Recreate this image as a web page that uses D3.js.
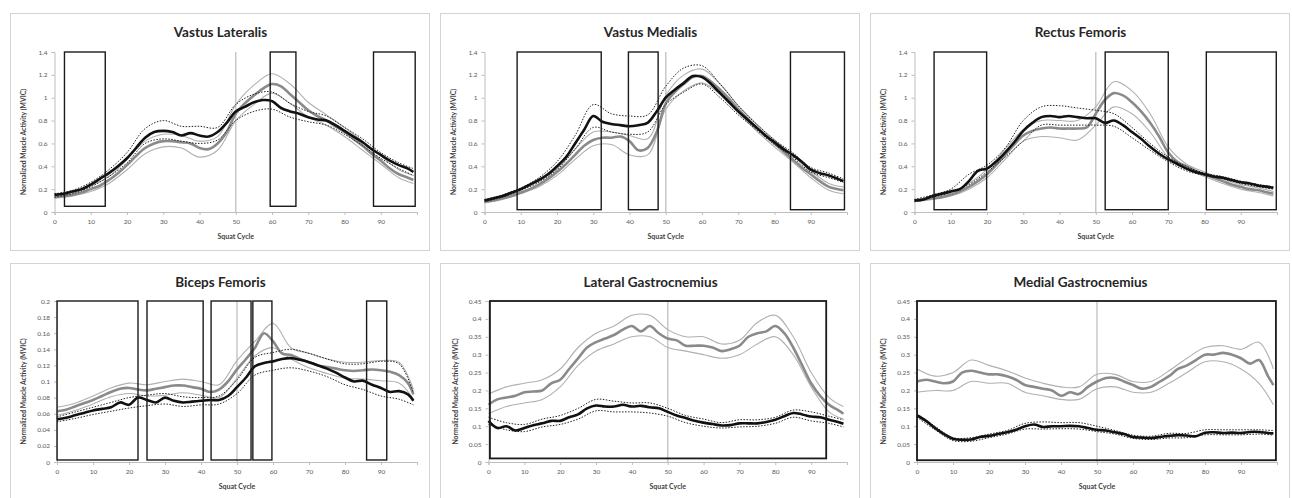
<!DOCTYPE html>
<html>
<head>
<meta charset="utf-8">
<script src="https://cdn.jsdelivr.net/npm/d3@7"></script>
<style>
  body { margin: 0; background: #fff; }
  svg text { font-family: Lato, "Open Sans", sans-serif; }
</style>
</head>
<body>
<div id="chart"></div>
<script>
// x positions (percent of squat cycle)
const xFine = [0,2.5,5,7.5,10,12.5,15,17.5,20,22.5,25,27.5,30,32.5,35,37.5,40,42.5,45,47.5,50,52.5,55,57.5,60,62.5,65,67.5,70,72.5,75,77.5,80,82.5,85,87.5,90,92.5,95,97.5,99];
const xCoarse = [0,5,10,15,20,25,30,35,40,45,50,55,60,65,70,75,80,85,90,95,99];
const xTicks = [0,10,20,30,40,50,60,70,80,90];

// Vastus Lateralis
const vlBlack = [0.15,0.16,0.18,0.20,0.24,0.29,0.34,0.40,0.47,0.56,0.65,0.70,0.71,0.70,0.67,0.69,0.67,0.66,0.70,0.78,0.88,0.92,0.96,0.98,0.97,0.91,0.88,0.86,0.83,0.81,0.80,0.76,0.71,0.66,0.61,0.55,0.50,0.45,0.41,0.38,0.35];
const vlGray = [0.13,0.14,0.15,0.17,0.20,0.23,0.28,0.34,0.41,0.49,0.56,0.60,0.62,0.62,0.61,0.60,0.56,0.55,0.60,0.70,0.86,0.95,1.02,1.08,1.12,1.10,1.03,0.96,0.89,0.84,0.80,0.75,0.70,0.64,0.58,0.51,0.45,0.38,0.33,0.30,0.28];
const vlBlackHi = [0.16,0.19,0.26,0.37,0.52,0.73,0.80,0.75,0.75,0.74,0.94,1.03,1.05,0.95,0.88,0.84,0.74,0.64,0.52,0.43,0.38];
const vlBlackLo = [0.13,0.16,0.22,0.31,0.43,0.60,0.64,0.62,0.60,0.63,0.80,0.88,0.90,0.83,0.79,0.76,0.68,0.58,0.47,0.38,0.32];
const vlGrayHi = [0.15,0.17,0.23,0.31,0.46,0.62,0.68,0.67,0.62,0.66,0.94,1.11,1.21,1.12,0.96,0.85,0.74,0.62,0.49,0.37,0.32];
const vlGrayLo = [0.12,0.14,0.18,0.25,0.37,0.51,0.57,0.56,0.48,0.54,0.80,0.94,1.04,0.95,0.83,0.76,0.66,0.54,0.42,0.30,0.25];

// Vastus Medialis
const vmBlack = [0.10,0.12,0.14,0.17,0.20,0.24,0.28,0.33,0.40,0.48,0.60,0.72,0.84,0.79,0.77,0.76,0.75,0.76,0.78,0.88,1.00,1.07,1.13,1.19,1.18,1.12,1.04,0.96,0.88,0.81,0.74,0.67,0.61,0.55,0.50,0.44,0.37,0.34,0.32,0.29,0.27];
const vmGray = [0.09,0.10,0.12,0.14,0.17,0.20,0.24,0.29,0.35,0.42,0.50,0.58,0.63,0.65,0.65,0.66,0.62,0.54,0.56,0.70,0.95,1.05,1.12,1.18,1.19,1.14,1.07,0.99,0.90,0.82,0.74,0.67,0.60,0.53,0.46,0.39,0.33,0.27,0.22,0.20,0.19];
const vmBlackHi = [0.11,0.15,0.21,0.30,0.44,0.67,0.94,0.86,0.84,0.85,1.10,1.26,1.28,1.12,0.93,0.77,0.63,0.52,0.39,0.34,0.29];
const vmBlackLo = [0.09,0.13,0.19,0.26,0.37,0.55,0.74,0.70,0.68,0.70,0.94,1.05,1.12,1.00,0.85,0.72,0.59,0.48,0.35,0.30,0.26];
const vmGrayHi = [0.10,0.13,0.19,0.27,0.38,0.55,0.70,0.70,0.67,0.64,1.02,1.20,1.25,1.12,0.93,0.77,0.63,0.50,0.36,0.25,0.22];
const vmGrayLo = [0.08,0.11,0.16,0.22,0.32,0.46,0.58,0.59,0.50,0.50,0.90,1.06,1.13,1.03,0.87,0.71,0.57,0.44,0.30,0.19,0.16];

// Rectus Femoris
const rfBlack = [0.10,0.11,0.14,0.16,0.18,0.20,0.27,0.36,0.38,0.44,0.52,0.61,0.71,0.78,0.83,0.84,0.83,0.84,0.83,0.82,0.82,0.78,0.80,0.76,0.70,0.64,0.57,0.51,0.46,0.42,0.38,0.35,0.33,0.31,0.30,0.28,0.26,0.25,0.23,0.22,0.21];
const rfGray = [0.10,0.11,0.12,0.13,0.15,0.18,0.22,0.27,0.33,0.41,0.50,0.59,0.67,0.71,0.73,0.74,0.73,0.73,0.73,0.74,0.86,0.98,1.04,1.02,0.96,0.88,0.78,0.66,0.52,0.44,0.40,0.36,0.33,0.30,0.27,0.24,0.22,0.20,0.19,0.17,0.16];
const rfBlackHi = [0.11,0.15,0.20,0.33,0.41,0.56,0.80,0.92,0.93,0.91,0.89,0.86,0.74,0.60,0.48,0.40,0.34,0.31,0.27,0.24,0.22];
const rfBlackLo = [0.09,0.13,0.17,0.24,0.35,0.48,0.62,0.76,0.76,0.76,0.76,0.75,0.65,0.54,0.44,0.36,0.32,0.29,0.25,0.22,0.20];
const rfGrayHi = [0.11,0.13,0.17,0.25,0.37,0.55,0.72,0.80,0.80,0.80,0.92,1.14,1.06,0.86,0.57,0.42,0.35,0.29,0.24,0.21,0.18];
const rfGrayLo = [0.09,0.11,0.14,0.20,0.30,0.46,0.62,0.66,0.65,0.63,0.76,0.92,0.86,0.70,0.48,0.38,0.31,0.25,0.20,0.17,0.14];

// Biceps Femoris
const bfBlack = [0.053,0.055,0.058,0.061,0.064,0.066,0.068,0.074,0.071,0.080,0.077,0.074,0.080,0.076,0.074,0.075,0.076,0.077,0.077,0.082,0.093,0.105,0.119,0.123,0.125,0.128,0.129,0.127,0.124,0.120,0.116,0.111,0.105,0.100,0.101,0.096,0.092,0.087,0.088,0.084,0.076];
const bfGray = [0.063,0.065,0.069,0.073,0.077,0.082,0.087,0.091,0.092,0.090,0.089,0.091,0.093,0.095,0.095,0.093,0.091,0.087,0.090,0.100,0.115,0.128,0.142,0.160,0.150,0.135,0.133,0.128,0.124,0.120,0.118,0.116,0.114,0.113,0.114,0.115,0.114,0.112,0.108,0.098,0.084];
const bfBlackHi = [0.056,0.062,0.068,0.074,0.080,0.083,0.085,0.081,0.080,0.082,0.102,0.130,0.136,0.140,0.135,0.128,0.122,0.122,0.125,0.122,0.086];
const bfBlackLo = [0.050,0.054,0.059,0.063,0.067,0.070,0.072,0.069,0.071,0.072,0.085,0.108,0.114,0.117,0.113,0.106,0.096,0.090,0.082,0.078,0.071];
const bfGrayHi = [0.068,0.073,0.082,0.092,0.098,0.096,0.100,0.103,0.100,0.096,0.126,0.150,0.172,0.142,0.135,0.128,0.124,0.124,0.126,0.124,0.090];
const bfGrayLo = [0.058,0.064,0.072,0.081,0.085,0.082,0.083,0.086,0.083,0.080,0.104,0.132,0.142,0.128,0.117,0.110,0.104,0.103,0.101,0.098,0.078];

// Lateral Gastrocnemius
const lgBlack = [0.115,0.095,0.100,0.088,0.095,0.103,0.108,0.115,0.115,0.125,0.133,0.150,0.158,0.155,0.155,0.160,0.155,0.157,0.153,0.150,0.140,0.130,0.123,0.115,0.110,0.106,0.102,0.103,0.108,0.108,0.108,0.112,0.118,0.128,0.137,0.133,0.127,0.125,0.118,0.112,0.107];
const lgGray = [0.160,0.175,0.180,0.185,0.195,0.197,0.200,0.220,0.230,0.260,0.290,0.320,0.335,0.345,0.355,0.370,0.380,0.365,0.380,0.360,0.345,0.340,0.325,0.325,0.325,0.320,0.310,0.315,0.325,0.350,0.360,0.365,0.380,0.360,0.320,0.270,0.220,0.185,0.160,0.145,0.135];
const lgBlackHi = [0.125,0.110,0.105,0.120,0.130,0.150,0.175,0.170,0.165,0.165,0.150,0.130,0.120,0.110,0.118,0.118,0.125,0.145,0.140,0.128,0.118];
const lgBlackLo = [0.105,0.090,0.085,0.098,0.105,0.120,0.143,0.140,0.140,0.137,0.128,0.110,0.100,0.095,0.098,0.100,0.108,0.125,0.115,0.108,0.098];
const lgGrayHi = [0.190,0.210,0.220,0.230,0.260,0.320,0.360,0.380,0.410,0.410,0.370,0.350,0.350,0.330,0.340,0.390,0.410,0.350,0.250,0.180,0.155];
const lgGrayLo = [0.135,0.155,0.165,0.175,0.210,0.270,0.310,0.330,0.350,0.350,0.320,0.310,0.300,0.290,0.300,0.330,0.350,0.300,0.210,0.140,0.120];

// Medial Gastrocnemius
const mgBlack = [0.130,0.115,0.095,0.078,0.065,0.062,0.063,0.070,0.073,0.078,0.083,0.090,0.100,0.105,0.098,0.100,0.100,0.101,0.100,0.095,0.090,0.088,0.083,0.078,0.070,0.068,0.067,0.070,0.073,0.075,0.074,0.072,0.082,0.083,0.081,0.082,0.081,0.084,0.084,0.081,0.080];
const mgGray = [0.225,0.230,0.225,0.220,0.225,0.250,0.255,0.250,0.245,0.245,0.240,0.230,0.215,0.210,0.205,0.200,0.185,0.195,0.190,0.210,0.225,0.235,0.235,0.225,0.215,0.205,0.210,0.225,0.240,0.260,0.270,0.285,0.300,0.300,0.305,0.300,0.290,0.275,0.285,0.240,0.215];
const mgBlackHi = [0.135,0.100,0.068,0.068,0.078,0.088,0.108,0.112,0.110,0.110,0.100,0.088,0.075,0.072,0.080,0.080,0.090,0.090,0.090,0.090,0.088];
const mgBlackLo = [0.125,0.090,0.060,0.058,0.068,0.078,0.092,0.092,0.093,0.092,0.085,0.078,0.066,0.063,0.067,0.068,0.076,0.076,0.076,0.078,0.075];
const mgGrayHi = [0.260,0.240,0.250,0.285,0.270,0.255,0.235,0.220,0.210,0.210,0.245,0.245,0.225,0.225,0.255,0.290,0.320,0.325,0.315,0.335,0.260];
const mgGrayLo = [0.195,0.200,0.200,0.225,0.220,0.220,0.195,0.185,0.175,0.175,0.205,0.210,0.195,0.195,0.220,0.250,0.280,0.280,0.260,0.220,0.160];

// highlighted phases [start, end] in squat cycle
const vlBoxes = [[2.75,14],[59.5,66.6],[88,99.5]];
const vmBoxes = [[9,32.2],[39.7,47.9],[84.4,99.3]];
const rfBoxes = [[5.4,19.9],[52.6,70],[80.5,99.8]];
const bfBoxes = [[0,22.5],[25,40.6],[42.8,53.9],[54.4,59.7],[86,91.6]];
const lgBoxes = [[0.4,94.2]];
const mgBoxes = [[0,99.7]];

const W = 1292, H = 498;
const svg = d3.select("#chart").append("svg")
  .attr("width", W)
  .attr("height", H);

const panels = [
  { title: "Vastus Lateralis", col: 0, row: 0, yMax: 1.4, yStep: 0.2, boxTop: 1.4, boxBottom: 0.05, boxes: vlBoxes,
    black: vlBlack, blackHi: vlBlackHi, blackLo: vlBlackLo, gray: vlGray, grayHi: vlGrayHi, grayLo: vlGrayLo },
  { title: "Vastus Medialis", col: 1, row: 0, yMax: 1.4, yStep: 0.2, boxTop: 1.4, boxBottom: 0.02, boxes: vmBoxes,
    black: vmBlack, blackHi: vmBlackHi, blackLo: vmBlackLo, gray: vmGray, grayHi: vmGrayHi, grayLo: vmGrayLo },
  { title: "Rectus Femoris", col: 2, row: 0, yMax: 1.4, yStep: 0.2, boxTop: 1.4, boxBottom: 0.02, boxes: rfBoxes,
    black: rfBlack, blackHi: rfBlackHi, blackLo: rfBlackLo, gray: rfGray, grayHi: rfGrayHi, grayLo: rfGrayLo },
  { title: "Biceps Femoris", col: 0, row: 1, yMax: 0.2, yStep: 0.02, boxTop: 0.2, boxBottom: 0.0025, boxes: bfBoxes,
    black: bfBlack, blackHi: bfBlackHi, blackLo: bfBlackLo, gray: bfGray, grayHi: bfGrayHi, grayLo: bfGrayLo },
  { title: "Lateral Gastrocnemius", col: 1, row: 1, yMax: 0.45, yStep: 0.05, boxTop: 0.45, boxBottom: 0.01, boxes: lgBoxes,
    black: lgBlack, blackHi: lgBlackHi, blackLo: lgBlackLo, gray: lgGray, grayHi: lgGrayHi, grayLo: lgGrayLo },
  { title: "Medial Gastrocnemius", col: 2, row: 1, yMax: 0.45, yStep: 0.05, boxTop: 0.45, boxBottom: 0.005, boxes: mgBoxes,
    black: mgBlack, blackHi: mgBlackHi, blackLo: mgBlackLo, gray: mgGray, grayHi: mgGrayHi, grayLo: mgGrayLo }
];

const colX = [10, 440, 870];
const rowY = [13, 263];
const panelW = 419, panelH = 239;

panels.forEach(p => {
  const g = svg.append("g")
    .attr("transform", `translate(${colX[p.col]},${rowY[p.row]})`);

  // panel frame
  g.append("rect")
    .attr("x", 0.5).attr("y", 0.5)
    .attr("width", panelW).attr("height", panelH - 2)
    .attr("fill", "#fff")
    .attr("stroke", "#d4d4d4");

  const left = p.row === 0 ? 44.5 : (p.col === 1 ? 48.5 : 47);
  const top = p.row === 0 ? 39 : 38;
  const x = d3.scaleLinear().domain([0, 100]).range([left, 407]);
  const y = d3.scaleLinear().domain([0, p.yMax]).range([199, top]);

  // title
  g.append("text")
    .attr("x", panelW / 2 + 1).attr("y", 24)
    .attr("text-anchor", "middle")
    .style("font-size", "13.5px")
    .style("font-weight", "bold")
    .style("fill", "#262626")
    .text(p.title);

  // axes
  const yTicks = d3.range(0, p.yMax + p.yStep / 2, p.yStep);
  const fmt = d => String(+d.toFixed(3));
  const yAxis = g.append("g")
    .attr("transform", `translate(${left},0)`)
    .call(d3.axisLeft(y).tickValues(yTicks).tickFormat(fmt).tickSize(3).tickPadding(4));
  const xAxis = g.append("g")
    .attr("transform", `translate(0,199)`)
    .call(d3.axisBottom(x).tickValues(xTicks).tickSize(3).tickPadding(4));
  [yAxis, xAxis].forEach(a => {
    a.select(".domain").attr("stroke", "#bdbdbd");
    a.selectAll(".tick line").attr("stroke", "#bdbdbd");
    a.selectAll("text")
      .style("font-size", "6.5px")
      .style("fill", "#595959")
      .style("font-family", "Lato, sans-serif");
  });

  // axis titles
  g.append("text")
    .attr("x", (left + 407) / 2).attr("y", 226)
    .attr("text-anchor", "middle")
    .style("font-size", "7px")
    .style("font-weight", "bold")
    .style("fill", "#404040")
    .text("Squat Cycle");
  g.append("text")
    .attr("transform", `translate(${p.col === 1 && p.row === 1 ? 18 : 16},${(top + 199) / 2 + 10}) rotate(-90)`)
    .attr("text-anchor", "middle")
    .style("font-size", "6.8px")
    .style("font-weight", "bold")
    .style("fill", "#404040")
    .text("Normalized Muscle Activity (MVIC)");

  // mid-cycle marker
  g.append("line")
    .attr("x1", x(50)).attr("x2", x(50))
    .attr("y1", y(p.yMax)).attr("y2", y(0))
    .attr("stroke", "#c8c8c8")
    .attr("stroke-width", 1.5);

  const line = xs => d3.line()
    .x((d, i) => x(xs[i]))
    .y(d => y(d))
    .curve(d3.curveCatmullRom.alpha(0.5));

  // gray group
  [p.grayHi, p.grayLo].forEach(s => {
    g.append("path").datum(s)
      .attr("d", line(xCoarse))
      .attr("fill", "none")
      .attr("stroke", "#b0b0b0")
      .attr("stroke-width", 1.1);
  });
  g.append("path").datum(p.gray)
    .attr("d", line(xFine))
    .attr("fill", "none")
    .attr("stroke", "#8a8a8a")
    .attr("stroke-width", 2.6);

  // black group
  [p.blackHi, p.blackLo].forEach(s => {
    g.append("path").datum(s)
      .attr("d", line(xCoarse))
      .attr("fill", "none")
      .attr("stroke", "#222")
      .attr("stroke-width", 1)
      .attr("stroke-dasharray", "1.5,1.5");
  });
  g.append("path").datum(p.black)
    .attr("d", line(xFine))
    .attr("fill", "none")
    .attr("stroke", "#111")
    .attr("stroke-width", 2.6);

  // phase boxes
  g.selectAll(".box")
    .data(p.boxes)
    .enter().append("rect")
    .attr("class", "box")
    .attr("x", d => x(d[0]))
    .attr("y", y(p.boxTop))
    .attr("width", d => x(d[1]) - x(d[0]))
    .attr("height", y(p.boxBottom) - y(p.boxTop))
    .attr("fill", "none")
    .attr("stroke", "#1a1a1a")
    .attr("stroke-width", p.row === 1 && p.col > 0 ? 1.8 : 1.4);
});
</script>
</body>
</html>
